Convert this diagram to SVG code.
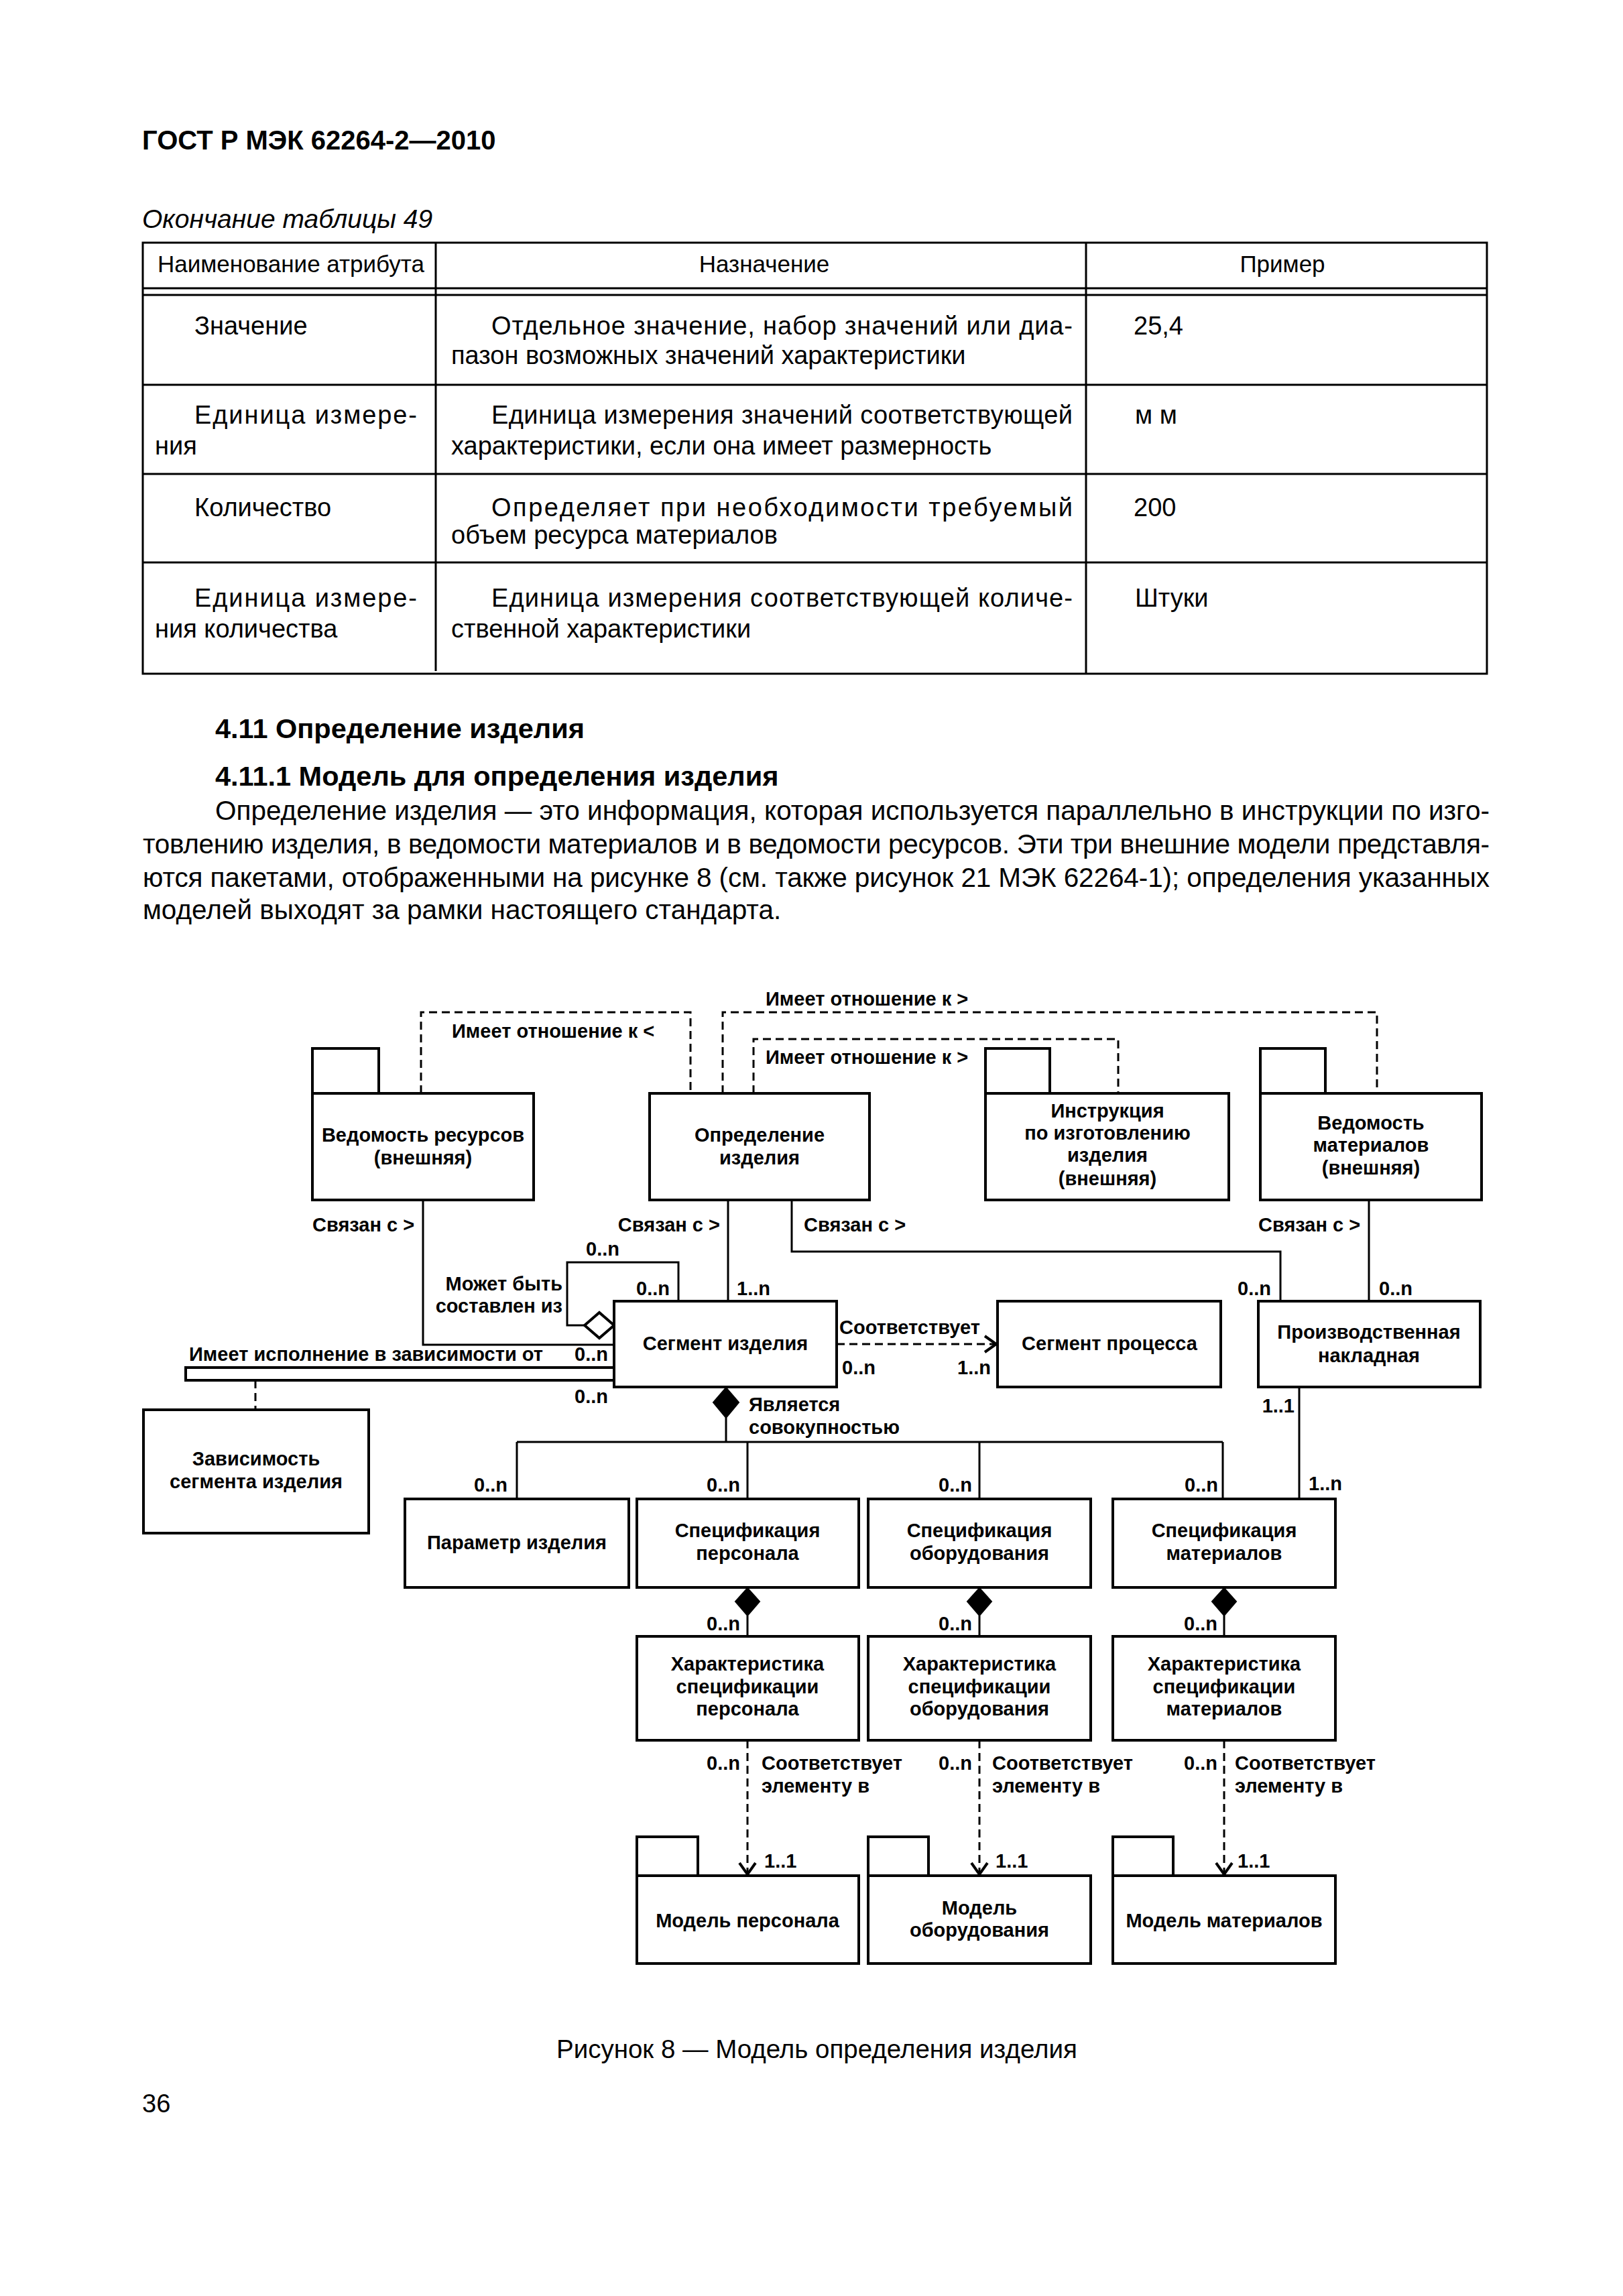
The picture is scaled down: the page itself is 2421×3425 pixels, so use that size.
<svg xmlns="http://www.w3.org/2000/svg" width="2421" height="3425" viewBox="0 0 2421 3425">
<style>
.pg{font-family:"Liberation Sans",Arial,sans-serif;fill:#000}
.b{font-weight:bold}
.it{font-style:italic}
.tt{font-size:40px}
.hd{font-size:41.5px}
.body{font-size:40.5px}
.th{font-size:35px}
.td{font-size:38px}
.ti{font-size:39px}
.cap{font-size:38.5px}
.d{font-family:"Liberation Sans",Arial,sans-serif;font-size:29px;font-weight:bold;fill:#000}
.c{text-anchor:middle}
.e{text-anchor:end}
.box{fill:#fff;stroke:#000;stroke-width:4}
.ln{fill:none;stroke:#000;stroke-width:3}
.ds{fill:none;stroke:#000;stroke-width:3;stroke-dasharray:12 7}
.tl{fill:none;stroke:#000;stroke-width:3}
</style>
<defs>
<marker id="open" markerUnits="userSpaceOnUse" markerWidth="30" markerHeight="30" viewBox="-20 -15 24 30" refX="0" refY="0" orient="auto" overflow="visible">
<path d="M-17,-12 L0,0 L-17,12" fill="none" stroke="#000" stroke-width="4" stroke-dasharray="none"/>
</marker>
</defs>
<rect width="2421" height="3425" fill="#fff"/>

<g id="page-text">
<text class="pg b tt" x="212" y="223">ГОСТ Р МЭК 62264-2—2010</text>
<text class="pg it ti" x="212" y="340">Окончание таблицы 49</text>
</g>

<g id="table">
<rect class="tl" x="213" y="362" width="2005" height="643"/>
<line class="tl" x1="650" y1="362" x2="650" y2="1001"/>
<line class="tl" x1="1620" y1="362" x2="1620" y2="1005"/>
<line class="tl" x1="213" y1="430" x2="2218" y2="430"/>
<line class="tl" x1="213" y1="440" x2="2218" y2="440"/>
<line class="tl" x1="213" y1="574" x2="2218" y2="574"/>
<line class="tl" x1="213" y1="707" x2="2218" y2="707"/>
<line class="tl" x1="213" y1="839" x2="2218" y2="839"/>
<text class="pg th c" x="434" y="406">Наименование атрибута</text>
<text class="pg th c" x="1140" y="406">Назначение</text>
<text class="pg th c" x="1913" y="406">Пример</text>

<text class="pg td" x="290" y="499">Значение</text>
<text class="pg td" x="733" y="499" textLength="867" lengthAdjust="spacing">Отдельное значение, набор значений или диа-</text>
<text class="pg td" x="673" y="543">пазон возможных значений характеристики</text>
<text class="pg td" x="1691" y="499">25,4</text>

<text class="pg td" x="290" y="632" textLength="332" lengthAdjust="spacing">Единица измере-</text>
<text class="pg td" x="231" y="678">ния</text>
<text class="pg td" x="733" y="632" textLength="867" lengthAdjust="spacing">Единица измерения значений соответствующей</text>
<text class="pg td" x="673" y="678">характеристики, если она имеет размерность</text>
<text class="pg td" x="1693" y="632">м м</text>

<text class="pg td" x="290" y="770">Количество</text>
<text class="pg td" x="733" y="770" textLength="867" lengthAdjust="spacing">Определяет при необходимости требуемый</text>
<text class="pg td" x="673" y="811">объем ресурса материалов</text>
<text class="pg td" x="1691" y="770">200</text>

<text class="pg td" x="290" y="905" textLength="332" lengthAdjust="spacing">Единица измере-</text>
<text class="pg td" x="231" y="951">ния количества</text>
<text class="pg td" x="733" y="905" textLength="867" lengthAdjust="spacing">Единица измерения соответствующей количе-</text>
<text class="pg td" x="673" y="951">ственной характеристики</text>
<text class="pg td" x="1693" y="905">Штуки</text>
</g>

<g id="section-text">
<text class="pg b hd" x="321" y="1101">4.11 Определение изделия</text>
<text class="pg b hd" x="321" y="1172">4.11.1 Модель для определения изделия</text>
<text class="pg body" x="321" y="1223" textLength="1901" lengthAdjust="spacing">Определение изделия — это информация, которая используется параллельно в инструкции по изго-</text>
<text class="pg body" x="213" y="1273" textLength="2009" lengthAdjust="spacing">товлению изделия, в ведомости материалов и в ведомости ресурсов. Эти три внешние модели представля-</text>
<text class="pg body" x="213" y="1323" textLength="2009" lengthAdjust="spacing">ются пакетами, отображенными на рисунке 8 (см. также рисунок 21 МЭК 62264-1); определения указанных</text>
<text class="pg body" x="213" y="1371">моделей выходят за рамки настоящего стандарта.</text>
</g>

<g id="connectors">
<path class="ds" d="M628,1631 V1510 H1030 V1631"/>
<path class="ds" d="M1078,1631 V1510 H2054 V1631"/>
<path class="ds" d="M1124,1631 V1550 H1668 V1631"/>
<text class="d" x="674" y="1548">Имеет отношение к &lt;</text>
<text class="d" x="1142" y="1500">Имеет отношение к &gt;</text>
<text class="d" x="1142" y="1587">Имеет отношение к &gt;</text>

<path class="ln" d="M631,1790 V2006 H916"/>
<text class="d" x="466" y="1837">Связан с &gt;</text>
<path class="ln" d="M1086,1790 V1941"/>
<text class="d e" x="1074" y="1837">Связан с &gt;</text>
<text class="d" x="1099" y="1932">1..n</text>
<path class="ln" d="M1181,1790 V1867 H1910 V1941"/>
<text class="d" x="1199" y="1837">Связан с &gt;</text>
<text class="d e" x="1896" y="1932">0..n</text>
<path class="ln" d="M2042,1790 V1941"/>
<text class="d" x="1877" y="1837">Связан с &gt;</text>
<text class="d" x="2057" y="1932">0..n</text>

<path class="ln" d="M1012,1941 V1883 H846 V1977 H872"/>
<polygon points="872,1977 894,1958 916,1977 894,1996" fill="#fff" stroke="#000" stroke-width="4"/>
<text class="d" x="874" y="1873">0..n</text>
<text class="d e" x="999" y="1932">0..n</text>
<text class="d e" x="839" y="1925">Может быть</text>
<text class="d e" x="839" y="1958">составлен из</text>

<rect x="277" y="2040" width="639" height="19" fill="#fff" stroke="#000" stroke-width="4"/>
<text class="d" x="282" y="2030">Имеет исполнение в зависимости от</text>
<text class="d" x="857" y="2030">0..n</text>
<text class="d" x="857" y="2093">0..n</text>
<path class="ds" d="M381,2059 V2103"/>

<path class="ds" d="M1248,2005 H1486" marker-end="url(#open)"/>
<text class="d" x="1252" y="1990">Соответствует</text>
<text class="d" x="1256" y="2050">0..n</text>
<text class="d e" x="1478" y="2050">1..n</text>

<polygon points="1083,2070 1102,2092 1083,2115 1064,2092" fill="#000" stroke="#000" stroke-width="2"/>
<path class="ln" d="M1083,2115 V2151"/>
<path class="ln" d="M771,2151 H1824"/>
<path class="ln" d="M771,2151 V2236 M1115,2151 V2236 M1461,2151 V2236 M1824,2151 V2236"/>
<text class="d" x="1117" y="2105">Является</text>
<text class="d" x="1117" y="2139">совокупностью</text>
<text class="d e" x="757" y="2225">0..n</text>
<text class="d e" x="1104" y="2225">0..n</text>
<text class="d e" x="1450" y="2225">0..n</text>
<text class="d e" x="1817" y="2225">0..n</text>

<path class="ln" d="M1938,2069 V2236"/>
<text class="d e" x="1931" y="2107">1..1</text>
<text class="d" x="1952" y="2223">1..n</text>

<polygon points="1115,2369 1133,2389 1115,2410 1097,2389" fill="#000" stroke="#000" stroke-width="2"/>
<polygon points="1461,2369 1479,2389 1461,2410 1443,2389" fill="#000" stroke="#000" stroke-width="2"/>
<polygon points="1826,2369 1844,2389 1826,2410 1808,2389" fill="#000" stroke="#000" stroke-width="2"/>
<path class="ln" d="M1115,2410 V2441 M1461,2410 V2441 M1826,2410 V2441"/>
<text class="d e" x="1104" y="2432">0..n</text>
<text class="d e" x="1450" y="2432">0..n</text>
<text class="d e" x="1816" y="2432">0..n</text>

<path class="ds" d="M1115,2596 V2796" marker-end="url(#open)"/>
<path class="ds" d="M1461,2596 V2796" marker-end="url(#open)"/>
<path class="ds" d="M1826,2596 V2796" marker-end="url(#open)"/>
<text class="d e" x="1104" y="2640">0..n</text>
<text class="d" x="1136" y="2640">Соответствует</text>
<text class="d" x="1136" y="2674">элементу в</text>
<text class="d" x="1140" y="2786">1..1</text>
<text class="d e" x="1450" y="2640">0..n</text>
<text class="d" x="1480" y="2640">Соответствует</text>
<text class="d" x="1480" y="2674">элементу в</text>
<text class="d" x="1485" y="2786">1..1</text>
<text class="d e" x="1816" y="2640">0..n</text>
<text class="d" x="1842" y="2640">Соответствует</text>
<text class="d" x="1842" y="2674">элементу в</text>
<text class="d" x="1846" y="2786">1..1</text>
</g>

<g id="node-resources">
<rect class="box" x="466" y="1564" width="99" height="67"/>
<rect class="box" x="466" y="1631" width="330" height="159"/>
<text class="d c" x="631" y="1703">Ведомость ресурсов</text>
<text class="d c" x="631" y="1737">(внешняя)</text>
</g>
<g id="node-product-definition">
<rect class="box" x="969" y="1631" width="328" height="159"/>
<text class="d c" x="1133" y="1703">Определение</text>
<text class="d c" x="1133" y="1737">изделия</text>
</g>
<g id="node-instructions">
<rect class="box" x="1470" y="1564" width="96" height="67"/>
<rect class="box" x="1470" y="1631" width="363" height="159"/>
<text class="d c" x="1652" y="1667">Инструкция</text>
<text class="d c" x="1652" y="1700">по изготовлению</text>
<text class="d c" x="1652" y="1733">изделия</text>
<text class="d c" x="1652" y="1768">(внешняя)</text>
</g>
<g id="node-bom">
<rect class="box" x="1880" y="1564" width="97" height="67"/>
<rect class="box" x="1880" y="1631" width="330" height="159"/>
<text class="d c" x="2045" y="1685">Ведомость</text>
<text class="d c" x="2045" y="1718">материалов</text>
<text class="d c" x="2045" y="1752">(внешняя)</text>
</g>
<g id="node-product-segment">
<rect class="box" x="916" y="1941" width="332" height="128"/>
<text class="d c" x="1082" y="2014">Сегмент изделия</text>
</g>
<g id="node-process-segment">
<rect class="box" x="1488" y="1941" width="333" height="128"/>
<text class="d c" x="1655" y="2014">Сегмент процесса</text>
</g>
<g id="node-production-bill">
<rect class="box" x="1877" y="1941" width="331" height="128"/>
<text class="d c" x="2042" y="1997">Производственная</text>
<text class="d c" x="2042" y="2032">накладная</text>
</g>
<g id="node-segment-dependency">
<rect class="box" x="214" y="2103" width="336" height="184"/>
<text class="d c" x="382" y="2186">Зависимость</text>
<text class="d c" x="382" y="2220">сегмента изделия</text>
</g>
<g id="node-product-parameter">
<rect class="box" x="604" y="2236" width="334" height="132"/>
<text class="d c" x="771" y="2311">Параметр изделия</text>
</g>
<g id="node-personnel-spec">
<rect class="box" x="950" y="2236" width="331" height="132"/>
<text class="d c" x="1115" y="2293">Спецификация</text>
<text class="d c" x="1115" y="2327">персонала</text>
</g>
<g id="node-equipment-spec">
<rect class="box" x="1295" y="2236" width="332" height="132"/>
<text class="d c" x="1461" y="2293">Спецификация</text>
<text class="d c" x="1461" y="2327">оборудования</text>
</g>
<g id="node-material-spec">
<rect class="box" x="1660" y="2236" width="332" height="132"/>
<text class="d c" x="1826" y="2293">Спецификация</text>
<text class="d c" x="1826" y="2327">материалов</text>
</g>
<g id="node-personnel-char">
<rect class="box" x="950" y="2441" width="331" height="155"/>
<text class="d c" x="1115" y="2492">Характеристика</text>
<text class="d c" x="1115" y="2526">спецификации</text>
<text class="d c" x="1115" y="2559">персонала</text>
</g>
<g id="node-equipment-char">
<rect class="box" x="1295" y="2441" width="332" height="155"/>
<text class="d c" x="1461" y="2492">Характеристика</text>
<text class="d c" x="1461" y="2526">спецификации</text>
<text class="d c" x="1461" y="2559">оборудования</text>
</g>
<g id="node-material-char">
<rect class="box" x="1660" y="2441" width="332" height="155"/>
<text class="d c" x="1826" y="2492">Характеристика</text>
<text class="d c" x="1826" y="2526">спецификации</text>
<text class="d c" x="1826" y="2559">материалов</text>
</g>
<g id="node-personnel-model">
<rect class="box" x="950" y="2740" width="91" height="58"/>
<rect class="box" x="950" y="2798" width="331" height="131"/>
<text class="d c" x="1115" y="2875">Модель персонала</text>
</g>
<g id="node-equipment-model">
<rect class="box" x="1295" y="2740" width="90" height="58"/>
<rect class="box" x="1295" y="2798" width="332" height="131"/>
<text class="d c" x="1461" y="2856">Модель</text>
<text class="d c" x="1461" y="2889">оборудования</text>
</g>
<g id="node-material-model">
<rect class="box" x="1660" y="2740" width="90" height="58"/>
<rect class="box" x="1660" y="2798" width="332" height="131"/>
<text class="d c" x="1826" y="2875">Модель материалов</text>
</g>

<g id="caption">
<text class="pg cap" x="830" y="3070">Рисунок 8 — Модель определения изделия</text>
<text class="pg td" x="212" y="3151">36</text>
</g>
</svg>
